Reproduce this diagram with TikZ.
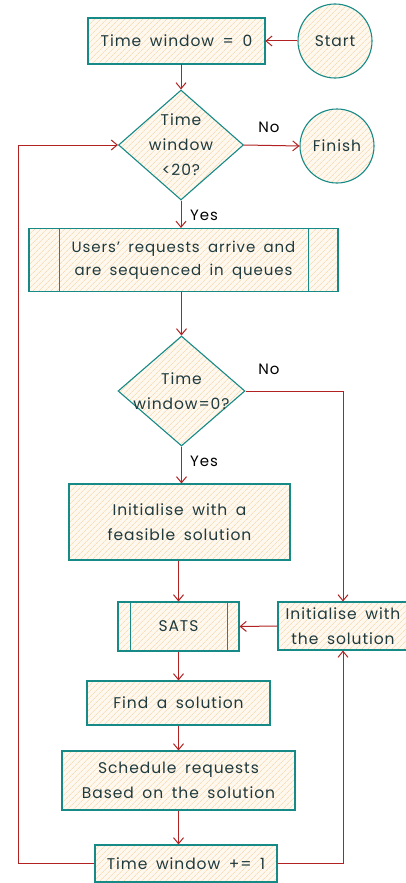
\documentclass[tikz,border=0pt]{standalone}
\usepackage{fontspec}
\setmainfont{Poppins}[LetterSpace=6,WordSpace=1.7]
\usetikzlibrary{shapes.geometric,patterns.meta,arrows.meta}

\definecolor{edgeteal}{HTML}{168A86}
\definecolor{hatch}{HTML}{F7DDB9}
\definecolor{paper}{HTML}{FFF8EF}
\definecolor{flowred}{HTML}{B22222}
\definecolor{ink}{HTML}{1F3A3D}

\tikzset{
  shape base/.style={draw=edgeteal, line width=1.1pt,
    preaction={fill=paper},
    pattern={Lines[angle=45,distance=4pt,line width=0.65pt]},
    pattern color=hatch,
    text=ink, align=center, inner sep=0pt,
    font=\fontsize{15.5}{25}\selectfont},
  procbox/.style={shape base, rectangle},
  decision/.style={shape base, diamond, inner sep=-6pt},
  terminal/.style={shape base, circle, minimum size=74pt},
  flow/.style={draw=flowred, line width=1pt, -{Straight Barb[length=6pt,width=10pt]}},
  tag/.style={font=\fontsize{15}{16}\selectfont, text=black, inner sep=0pt},
  subline/.style={draw=edgeteal, line width=1.1pt}
}

\begin{document}
\begin{tikzpicture}[x=1pt,y=-1pt]
\useasboundingbox (0,0) rectangle (405,883);

% nodes
\node[procbox, minimum width=177pt, minimum height=46pt] (t0) at (176.5,41) {Time window = 0};
\node[terminal] (start) at (335,41) {Start};
\node[decision, minimum width=125pt, minimum height=110pt] (d1) at (181,145) {Time\\window\\<20?};
\node[terminal] (finish) at (337,146) {Finish};
\node[procbox, minimum width=309pt, minimum height=63pt, font=\fontsize{15}{23}\selectfont] (users) at (183.5,260) {Users' requests arrive and\\are sequenced in queues};
\node[decision, minimum width=127pt, minimum height=110pt] (d2) at (181.5,391) {Time\\window=0?};
\node[procbox, minimum width=221pt, minimum height=76pt] (feas) at (179.5,522) {Initialise with a\\feasible solution};
\node[procbox, minimum width=121pt, minimum height=49pt] (sats) at (178.5,626.5) {SATS};
\node[procbox, minimum width=130pt, minimum height=48pt] (initsol) at (343,626) {Initialise with\\the solution};
\node[procbox, minimum width=183pt, minimum height=44pt] (find) at (178.5,703) {Find a solution};
\node[procbox, minimum width=233pt, minimum height=59pt] (sched) at (178.5,780.5) {Schedule requests\\Based on the solution};
\node[procbox, minimum width=182pt, minimum height=37pt] (tinc) at (186,863.5) {Time window += 1};

% side bars of the predefined-process boxes
\draw[subline] ([xshift=31pt]users.north west) -- ([xshift=31pt]users.south west);
\draw[subline] ([xshift=-30pt]users.north east) -- ([xshift=-30pt]users.south east);
\draw[subline] ([xshift=13pt]sats.north west) -- ([xshift=13pt]sats.south west);
\draw[subline] ([xshift=-12pt]sats.north east) -- ([xshift=-12pt]sats.south east);

% connectors
\draw[flow] (start.west) -- (t0.east);
\draw[flow] (d1.north |- t0.south) -- (d1.north);
\draw[flow] (d1.east) -- (finish.west);
\node[tag] (no1) at (269,127) {No};
\draw[flow] (d1.south) -- (d1.south |- users.north);
\node[tag] (yes1) at (204,215) {Yes};
\draw[flow] (d2.north |- users.south) -- (d2.north);
\draw[flow] (d2.south) -- (d2.south |- feas.north);
\node[tag] (yes2) at (204,461) {Yes};
\draw[flow] (d2.east) -| (initsol.north);
\node[tag] (no2) at (269,369) {No};
\draw[flow] (feas.south -| sats.north) -- (sats.north);
\draw[flow] (initsol.west) -- (sats.east);
\draw[flow] (sats.south) -- (find.north);
\draw[flow] (find.south) -- (sched.north);
\draw[flow] (sched.south) -- (sched.south |- tinc.north);
\coordinate (loopL) at (18,863.5);
\draw[flow] (tinc.west) -- (loopL) |- (d1.west);
\draw[flow] (tinc.east) -| (initsol.south);
\end{tikzpicture}
\end{document}
